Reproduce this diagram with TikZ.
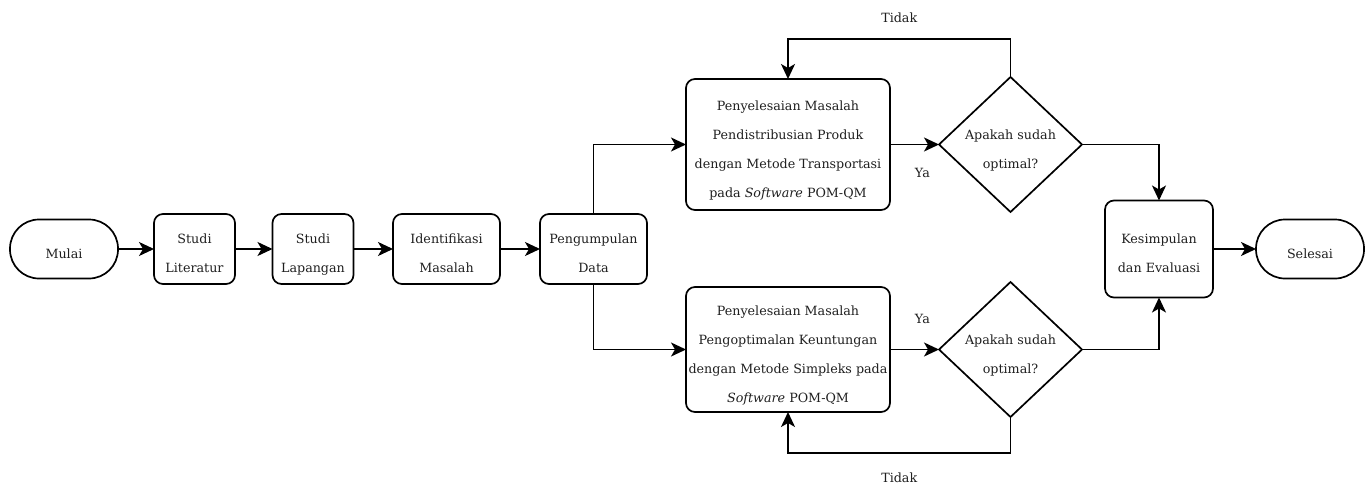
\documentclass[tikz,border=0pt]{standalone}
\usepackage{fontspec}
\setmainfont{DejaVu Serif}
\usetikzlibrary{positioning,shapes.geometric,arrows.meta}
\newcommand{\barisawal}{\rule{0pt}{21.5pt}}

\begin{document}
\begin{tikzpicture}[x=1pt,y=-1pt,
  every node/.style={font=\fontsize{12.7pt}{29pt}\selectfont, align=center, text=black!88},
  base/.style={draw, line width=1.7pt, inner sep=1pt, outer sep=0pt, text depth=3pt},
  terminal/.style={base, rounded corners=29pt, minimum width=108pt, minimum height=59pt},
  proc/.style={base, rounded corners=9pt, minimum height=70pt},
  decision/.style={base, diamond, aspect=1.06, minimum width=143pt, minimum height=135pt, inner sep=-6pt},
  arrow/.style={line width=1.7pt, -{Stealth[length=15pt,width=14pt,inset=4pt]}}]

		  \useasboundingbox (0,0) rectangle (1370,484);

		  \node[terminal] (mulai) at (64,249) {\barisawal Mulai} ; %
		  \node[proc, minimum width=81pt, right=36pt of mulai] (literatur) {\barisawal Studi\\Literatur} ; %
		  \node[proc, minimum width=81pt, right=37.5pt of literatur] (lapangan) {\barisawal Studi\\Lapangan} ; %
		  \node[proc, minimum width=107pt, right=39.5pt of lapangan] (identifikasi) {\barisawal Identifikasi\\Masalah} ; %
		  \node[proc, minimum width=107pt, right=40pt of identifikasi] (data) {\barisawal Pengumpulan\\Data} ; %
		  \node[proc, minimum width=204pt, minimum height=131pt, above right=4pt and 39pt of data] (transport)
		    {\barisawal Penyelesaian Masalah\\Pendistribusian Produk\\dengan Metode Transportasi\\pada \textit{Software} POM-QM} ; %
		  \node[proc, minimum width=204pt, minimum height=125pt, below right=3pt and 39pt of data] (simpleks)
		    {\barisawal Penyelesaian Masalah\\Pengoptimalan Keuntungan\\dengan Metode Simpleks pada\\\textit{Software} POM-QM} ; %
		  \node[decision, right=49pt of transport] (cektransport) {\barisawal Apakah sudah\\optimal?} ; %
		  \node[decision, right=49pt of simpleks] (ceksimpleks) {\barisawal Apakah sudah\\optimal?} ; %
		  \coordinate (tengah) at (cektransport.east |- data) ; %
		  \node[proc, minimum width=108pt, minimum height=97pt, right=23pt of tengah] (kesimpulan) {\barisawal Kesimpulan\\dan Evaluasi} ; %
		  \node[terminal, right=43pt of kesimpulan] (selesai) {\barisawal Selesai} ; %

		  \draw[arrow] (mulai) -- (literatur) ;
		  \draw[arrow] (literatur) -- (lapangan) ;
		  \draw[arrow] (lapangan) -- (identifikasi) ;
		  \draw[arrow] (identifikasi) -- (data) ;
		  \draw[arrow] (data.north) |- (transport.west) ;
		  \draw[arrow] (data.south) |- (simpleks.west) ;

		  \draw[arrow] (transport) -- (cektransport) node[pos=0.66, yshift=-28pt] {Ya} ;
		  \draw[arrow] (simpleks) -- (ceksimpleks) node[pos=0.66, yshift=31pt] {Ya} ;
		  \draw[arrow] (cektransport.north) -- ++(0,38pt) -| (transport.north) node[pos=0.25, yshift=21pt] {Tidak} ;
		  \draw[arrow] (ceksimpleks.south) -- ++(0,-36pt) -| (simpleks.south) node[pos=0.25, yshift=-25pt] {Tidak} ;

		  \draw[arrow] (cektransport.east) -| (kesimpulan.north) ;
		  \draw[arrow] (ceksimpleks.east) -| (kesimpulan.south) ;
		  \draw[arrow] (kesimpulan) -- (selesai) ;
		\end{tikzpicture}
\end{document}
